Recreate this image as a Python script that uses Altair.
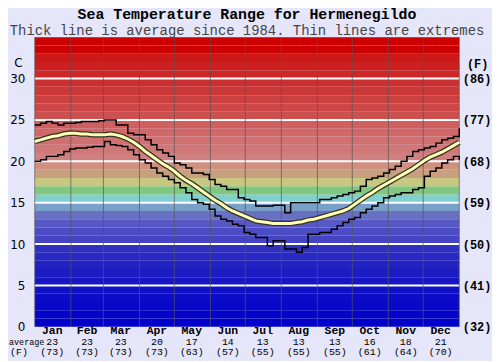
import altair as alt
import pandas as pd

TITLE = "Sea Temperature Range for Hermenegildo"
SUBTITLE = "Thick line is average since 1984. Thin lines are extremes"

# day-of-year sample positions (every 5 days)
days = list(range(0, 366, 5))

avg_c = [22.4, 22.6, 22.8, 23.0, 23.1, 23.3, 23.4, 23.4, 23.3, 23.3,
         23.2, 23.2, 23.2, 23.3, 23.2, 23.0, 22.7, 22.3, 21.8, 21.2,
         20.7, 20.2, 19.7, 19.3, 18.8, 18.2, 17.7, 17.3, 16.8, 16.3,
         15.8, 15.3, 14.9, 14.4, 14.0, 13.7, 13.4, 13.1, 12.8, 12.7,
         12.6, 12.5, 12.5, 12.5, 12.5, 12.6, 12.7, 12.9, 13.0, 13.2,
         13.4, 13.6, 13.8, 14.0, 14.3, 14.8, 15.3, 15.8, 16.2, 16.7,
         17.1, 17.5, 17.9, 18.3, 18.7, 19.1, 19.6, 20.1, 20.5, 20.8,
         21.1, 21.5, 21.9, 22.3]

max_c = [24.4, 24.6, 24.8, 24.6, 24.4, 24.6, 24.6, 24.7, 24.8, 24.8,
         24.8, 24.9, 25.0, 25.0, 24.4, 24.4, 23.4, 23.2, 23.2, 22.6,
         22.0, 21.4, 21.0, 20.6, 19.8, 19.6, 19.2, 18.6, 18.6, 18.4,
         17.8, 17.2, 17.0, 16.6, 16.6, 15.6, 15.4, 15.2, 14.6, 14.6,
         14.6, 14.7, 14.7, 13.8, 15.0, 15.0, 15.0, 15.0, 15.0, 15.4,
         15.4, 15.6, 15.8, 16.0, 16.2, 16.4, 17.0, 17.8, 18.0, 18.2,
         18.6, 19.0, 19.4, 20.0, 20.6, 21.2, 21.4, 21.6, 21.8, 22.2,
         22.6, 22.8, 23.0, 24.0]

min_c = [20.0, 20.2, 20.6, 20.6, 20.8, 21.2, 21.5, 21.6, 21.6, 21.7,
         21.8, 21.8, 22.4, 22.0, 21.9, 21.8, 21.4, 20.8, 20.2, 19.8,
         19.2, 18.6, 18.2, 17.8, 17.4, 16.8, 16.2, 15.4, 15.0, 14.8,
         14.2, 13.4, 13.0, 12.8, 12.4, 12.2, 11.4, 11.2, 10.8, 10.8,
         9.8, 10.4, 10.4, 9.4, 9.4, 9.0, 9.6, 11.2, 11.2, 11.4,
         11.4, 11.8, 12.2, 12.6, 13.0, 13.2, 13.8, 14.2, 14.6, 15.0,
         15.6, 15.8, 16.0, 16.2, 16.2, 16.6, 16.8, 18.2, 18.8, 19.2,
         19.8, 20.2, 20.6, 20.2]

# month labels
months = ["Jan", "Feb", "Mar", "Apr", "May", "Jun",
          "Jul", "Aug", "Sep", "Oct", "Nov", "Dec"]
month_mid = [15, 45, 74, 105, 135, 166, 196, 227, 258, 288, 319, 349]
month_avg_c = ["23", "23", "23", "20", "17", "14", "13", "13", "13", "16", "18", "21"]
month_avg_f = ["(73)", "(73)", "(73)", "(73)", "(63)", "(57)",
               "(55)", "(55)", "(55)", "(61)", "(64)", "(70)"]
month_edges = [0, 31, 59, 90, 120, 151, 181, 212, 243, 273, 304, 334, 365]

# background colour bands, one per degree C (0..35)
band_colors = ["#0000c8", "#0404c8", "#0808c8", "#0c0cc8", "#1010c6",
               "#1616c4", "#1c1cc4", "#2222c2", "#2828c2", "#3030c0",
               "#4444c4", "#4c4cc4", "#5858c4", "#6870c4", "#78a0c8",
               "#80d0d0", "#80c880", "#c8c880", "#c8a080", "#d09080",
               "#d08080", "#d07878", "#d07070", "#d06868", "#d06060",
               "#cc5050", "#cc4848", "#cc4040", "#cc3838", "#cc3030",
               "#cc2828", "#cc2020", "#cc1818", "#cc0000", "#cc0000"]
band_lo = list(range(0, 35))
grid_c = [5, 10, 15, 20, 25, 30]
tick_c = [0, 5, 10, 15, 20, 25, 30]

W, H = 428, 292

xs = alt.Scale(domain=[0, 365], nice=False, zero=False)
ys = alt.Scale(domain=[0, 35], nice=False, zero=True)

bands = pd.DataFrame({"lo": band_lo, "hi": [v + 1 for v in band_lo], "color": band_colors})
series = pd.DataFrame({"day": days, "avg": avg_c, "max": max_c, "min": min_c})
grid = pd.DataFrame({"c": grid_c})
mdf = pd.DataFrame({"mid": month_mid, "name": months, "c": month_avg_c, "f": month_avg_f})
edges = pd.DataFrame({"d": month_edges})

band_layer = alt.Chart(bands).mark_rect().encode(
    x=alt.value(0), x2=alt.value(W),
    y=alt.Y("lo:Q", scale=ys, axis=alt.Axis(
        values=tick_c, title="C", titleAngle=0, titleX=-17, titleY=26,
        titleAlign="center", titleBaseline="middle",
        titleFont="DejaVu Sans", titleFontSize=12, titleFontWeight="normal",
        labelFont="DejaVu Sans", labelFontSize=12, labelColor="#000",
        labelPadding=10, ticks=False, tickSize=0, domain=False, grid=False)),
    y2="hi:Q",
    color=alt.Color("color:N", scale=None),
)

white_rules = alt.Chart(grid).mark_rule(color="white", strokeWidth=2).encode(
    y=alt.Y("c:Q", scale=ys, axis=alt.Axis(
        orient="right", values=tick_c,
        labelExpr="'(' + format(datum.value * 9 / 5 + 32, 'd') + ')'",
        title="(F)", titleAngle=0, titleX=18, titleY=27,
        titleAlign="center", titleBaseline="middle",
        titleFont="Liberation Mono", titleFontSize=12, titleFontWeight="bold",
        labelFont="Liberation Mono", labelFontSize=12, labelFontWeight="bold",
        labelColor="#000", labelPadding=3, labelAlign="left",
        ticks=False, tickSize=0, domain=False, grid=False)),
    x=alt.value(0), x2=alt.value(W),
)

vlines = alt.Chart(edges).mark_rule(color="#555555", strokeWidth=1, opacity=0.7).encode(
    x=alt.X("d:Q", scale=xs, axis=None),
    y=alt.value(0), y2=alt.value(H),
)

base = alt.Chart(series).encode(x=alt.X("day:Q", scale=xs, axis=None))

max_line = base.mark_line(color="#000", strokeWidth=1.5, interpolate="step-after").encode(
    y=alt.Y("max:Q", scale=ys, axis=None))
min_line = base.mark_line(color="#000", strokeWidth=1.5, interpolate="step-after").encode(
    y=alt.Y("min:Q", scale=ys, axis=None))
avg_outline = base.mark_line(color="#333322", strokeWidth=5.5).encode(
    y=alt.Y("avg:Q", scale=ys, axis=None))
avg_line = base.mark_line(color="#ffffb8", strokeWidth=3).encode(
    y=alt.Y("avg:Q", scale=ys, axis=None))

mtext = alt.Chart(mdf)
m_name = mtext.mark_text(font="Liberation Mono", fontSize=11.5, fontWeight="bold",
                         baseline="middle", color="#000").encode(
    x=alt.X("mid:Q", scale=xs, axis=None), y=alt.value(H + 4), text="name:N")
m_c = mtext.mark_text(font="Liberation Mono", fontSize=10, fontWeight="normal",
                      baseline="middle", color="#000").encode(
    x=alt.X("mid:Q", scale=xs, axis=None), y=alt.value(H + 15), text="c:N")
m_f = mtext.mark_text(font="Liberation Mono", fontSize=10, fontWeight="normal",
                      baseline="middle", color="#000").encode(
    x=alt.X("mid:Q", scale=xs, axis=None), y=alt.value(H + 25), text="f:N")

side_avg = alt.Chart(pd.DataFrame({"t": ["average"]})).mark_text(
    font="Liberation Mono", fontSize=8.5, baseline="middle", align="left", color="#000"
).encode(x=alt.value(-26), y=alt.value(H + 15), text="t:N")
side_f = alt.Chart(pd.DataFrame({"t": ["(F)"]})).mark_text(
    font="Liberation Mono", fontSize=10, baseline="middle", align="center", color="#000"
).encode(x=alt.value(-16), y=alt.value(H + 25), text="t:N")

title_t = alt.Chart(pd.DataFrame({"t": [TITLE]})).mark_text(
    font="Liberation Mono", fontSize=15, fontWeight="bold", baseline="middle",
    align="center", color="#000"
).encode(x=alt.value(W / 2), y=alt.value(-23), text="t:N")
sub_t = alt.Chart(pd.DataFrame({"t": [SUBTITLE]})).mark_text(
    font="Liberation Mono", fontSize=14, baseline="middle",
    align="center", color="#444"
).encode(x=alt.value(W / 2), y=alt.value(-6.5), text="t:N")

chart = alt.layer(
    band_layer, white_rules, vlines, max_line, min_line, avg_outline, avg_line,
    m_name, m_c, m_f, side_avg, side_f, title_t, sub_t
).resolve_scale(y="independent").properties(
    width=W, height=H,
    autosize=alt.AutoSizeParams(type="none"),
    padding={"left": 27, "top": 28, "right": 33, "bottom": 33},
).configure(background="#e6e6fa").configure_view(stroke=None)

chart.save("out.html", embed_options={"renderer": "svg", "actions": False})
